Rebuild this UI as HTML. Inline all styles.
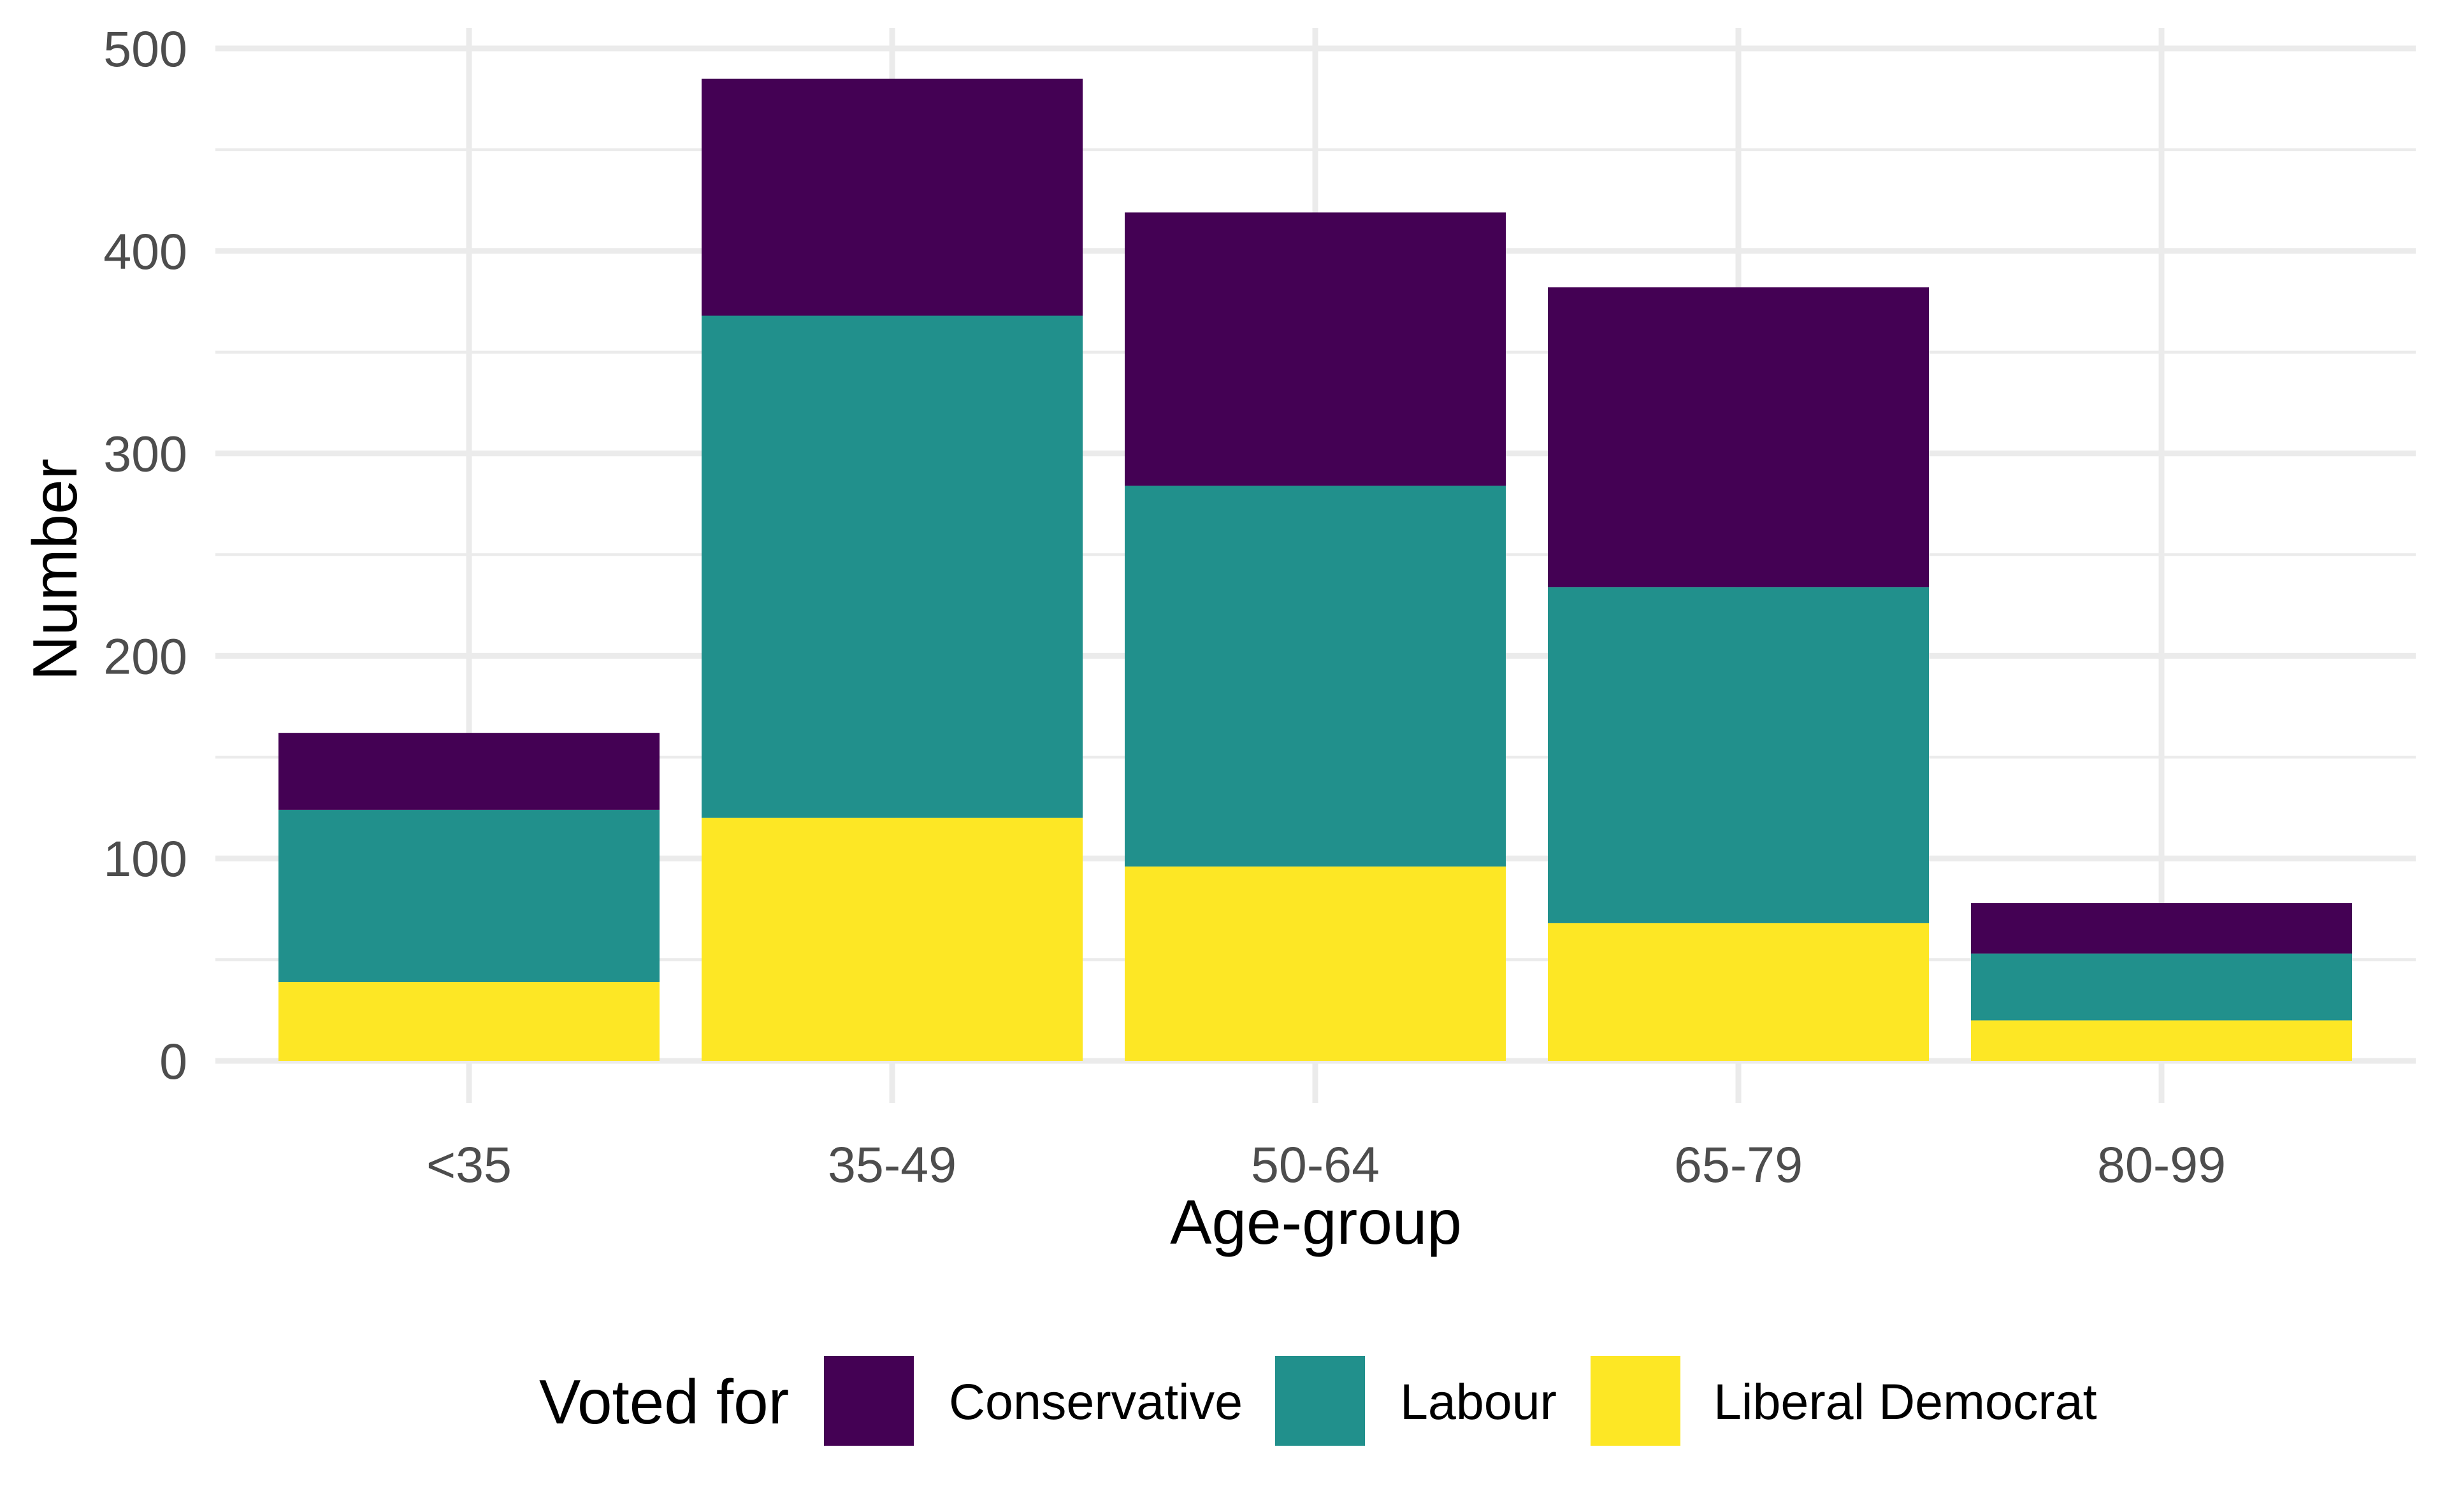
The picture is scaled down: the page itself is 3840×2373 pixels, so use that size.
<!DOCTYPE html>
<html><head><meta charset="utf-8"><style>
html,body{margin:0;padding:0;background:#fff;}
svg{display:block;font-family:"Liberation Sans",Arial,sans-serif;}
</style></head><body>
<svg id="chart" width="3840" height="2373" viewBox="0 0 3840 2373" xmlns="http://www.w3.org/2000/svg">
<g id="grid"></g>
<g id="bars"></g>
<g id="axes"></g>
<text x="2065" y="1952" font-size="98" text-anchor="middle" fill="#000">Age-group</text>
<text x="0" y="0" font-size="98" text-anchor="middle" fill="#000" transform="translate(120,894) rotate(-90)">Number</text>
<g>
<text x="846" y="2234" font-size="98" fill="#000">Voted for</text>
<rect x="1293" y="2128" width="141" height="141" fill="#440154"/>
<text x="1489" y="2227" font-size="79" fill="#000">Conservative</text>
<rect x="2001" y="2128" width="141" height="141" fill="#21908c"/>
<text x="2197" y="2227" font-size="79" fill="#000">Labour</text>
<rect x="2496" y="2128" width="141" height="141" fill="#fde725"/>
<text x="2689" y="2227" font-size="79" fill="#000">Liberal Democrat</text>
</g>
</svg>
<script>
const categories = ["<35","35-49","50-64","65-79","80-99"];
const libdem = [39,120,96,68,20];
const labour = [85,248,188,166,33];
const conservative = [38,117,135,148,25];
const yTicks = [0,100,200,300,400,500];
const yMinor = [50,150,250,350,450];

const NS = "http://www.w3.org/2000/svg";
const px0 = 338, px1 = 3791, py0 = 1665, pyTop = 76;
const yMax = 500;
function y(v){ return py0 - (py0 - pyTop) * v / yMax; }
const band = (3093 - 436) / 4 + 0; // approx category spacing
const firstCenter = 736;
function xc(i){ return firstCenter + i * 664; }
const barW = 598;

function mk(tag, attrs, parent){ const e = document.createElementNS(NS, tag); for (const k in attrs) e.setAttribute(k, attrs[k]); parent.appendChild(e); return e; }
const grid = document.getElementById('grid');
const bars = document.getElementById('bars');
const axes = document.getElementById('axes');

yMinor.forEach(v => {
  const l = mk('line', {x1:px0, x2:px1, y1:y(v), y2:y(v), stroke:'#ebebeb', 'stroke-width':4.5}, grid);
  
  
});
yTicks.forEach(v => {
  const l = mk('line', {x1:px0, x2:px1, y1:y(v), y2:y(v), stroke:'#ebebeb', 'stroke-width':9}, grid);
  
  
  const t = mk('text', {x:294, y:y(v)+28, 'font-size':79, 'text-anchor':'end', fill:'#4d4d4d'}, axes);
  
  
  t.textContent = v;
});
categories.forEach((c, i) => {
  const l = mk('line', {x1:xc(i), x2:xc(i), y1:44, y2:1731, stroke:'#ebebeb', 'stroke-width':9}, grid);
  
  
  const t = mk('text', {x:xc(i), y:1855, 'font-size':79, 'text-anchor':'middle', fill:'#4d4d4d'}, axes);
  
  
  t.textContent = c;
});
const series = [[libdem,'#fde725','liberal-democrat'],[labour,'#21908c','labour'],[conservative,'#440154','conservative']];
categories.forEach((c, i) => {
  let base = 0;
  series.forEach(([vals, col, nm]) => {
    const v = vals[i];
    const r = mk('rect', {x:xc(i)-barW/2, y:y(base+v), width:barW, height:y(base)-y(base+v), fill:col}, bars);
    
    
    base += v;
  });
});
</script>
</body></html>
